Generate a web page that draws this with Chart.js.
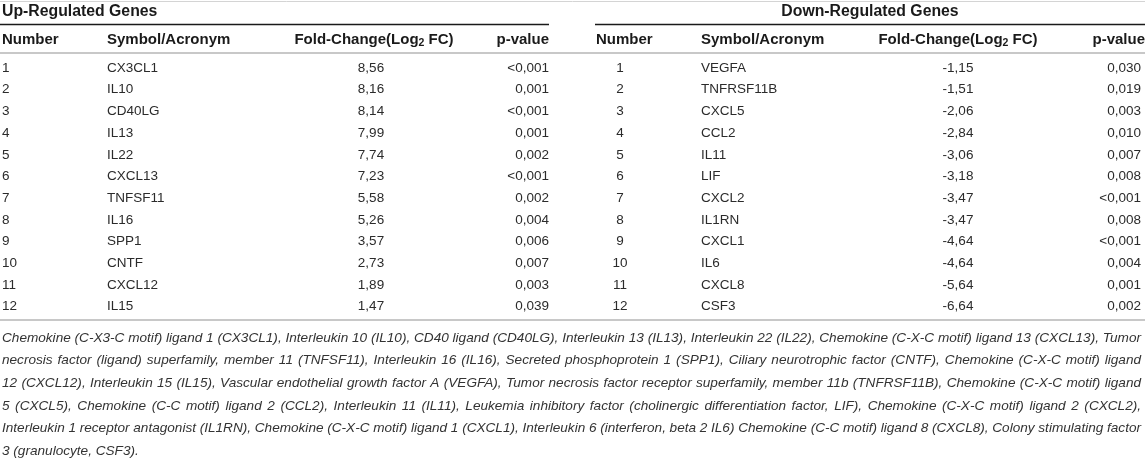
<!DOCTYPE html>
<html>
<head>
<meta charset="utf-8">
<script src="https://cdn.jsdelivr.net/npm/chart.js@4"></script>
<style>
  html, body { margin: 0; padding: 0; background: #fff; }
  #wrap { width: 1145px; height: 471px; }
</style>
</head>
<body>
<div id="wrap"><canvas id="geneTable"></canvas></div>
<script>
// table data
const rowNumbers = [1, 2, 3, 4, 5, 6, 7, 8, 9, 10, 11, 12];
const upSymbols = ['CX3CL1', 'IL10', 'CD40LG', 'IL13', 'IL22', 'CXCL13', 'TNFSF11', 'IL16', 'SPP1', 'CNTF', 'CXCL12', 'IL15'];
const upFoldChange = [8.56, 8.16, 8.14, 7.99, 7.74, 7.23, 5.58, 5.26, 3.57, 2.73, 1.89, 1.47];
const upPValues = ['<0,001', '0,001', '<0,001', '0,001', '0,002', '<0,001', '0,002', '0,004', '0,006', '0,007', '0,003', '0,039'];
const downSymbols = ['VEGFA', 'TNFRSF11B', 'CXCL5', 'CCL2', 'IL11', 'LIF', 'CXCL2', 'IL1RN', 'CXCL1', 'IL6', 'CXCL8', 'CSF3'];
const downFoldChange = [-1.15, -1.51, -2.06, -2.84, -3.06, -3.18, -3.47, -3.47, -4.64, -4.64, -5.64, -6.64];
const downPValues = ['0,030', '0,019', '0,003', '0,010', '0,007', '0,008', '<0,001', '0,008', '<0,001', '0,004', '0,001', '0,002'];
const groupTitles = ['Up-Regulated Genes', 'Down-Regulated Genes'];
const columnHeaders = ['Number', 'Symbol/Acronym', 'Fold-Change(Log|2| FC)', 'p-value'];
const footnoteLines = [
  'Chemokine (C-X3-C motif) ligand 1 (CX3CL1), Interleukin 10 (IL10), CD40 ligand (CD40LG), Interleukin 13 (IL13), Interleukin 22 (IL22), Chemokine (C-X-C motif) ligand 13 (CXCL13), Tumor',
  'necrosis factor (ligand) superfamily, member 11 (TNFSF11), Interleukin 16 (IL16), Secreted phosphoprotein 1 (SPP1), Ciliary neurotrophic factor (CNTF), Chemokine (C-X-C motif) ligand',
  '12 (CXCL12), Interleukin 15 (IL15), Vascular endothelial growth factor A (VEGFA), Tumor necrosis factor receptor superfamily, member 11b (TNFRSF11B), Chemokine (C-X-C motif) ligand',
  '5 (CXCL5), Chemokine (C-C motif) ligand 2 (CCL2), Interleukin 11 (IL11), Leukemia inhibitory factor (cholinergic differentiation factor, LIF), Chemokine (C-X-C motif) ligand 2 (CXCL2),',
  'Interleukin 1 receptor antagonist (IL1RN), Chemokine (C-X-C motif) ligand 1 (CXCL1), Interleukin 6 (interferon, beta 2 IL6) Chemokine (C-C motif) ligand 8 (CXCL8), Colony stimulating factor',
  '3 (granulocyte, CSF3).'
];

const fmt = v => v.toFixed(2).replace('.', ',');

// layout (x in page px, y in row units: data row n sits at n)
const FONT = '"Liberation Sans", Arial, sans-serif';
const rowStep = 21.7;
const yMin = 1 - 68 / rowStep;
const yMax = yMin + 471 / rowStep;
const rowAt = px => yMin + px / rowStep;
const cols = {
  upNum: { x: 2, align: 'left' },
  upSym: { x: 107, align: 'left' },
  upFc: { x: 371, align: 'center' },
  upP: { x: 549, align: 'right' },
  dnNum: { x: 620, align: 'center' },
  dnSym: { x: 701, align: 'left' },
  dnFc: { x: 958, align: 'center' },
  dnP: { x: 1141, align: 'right' }
};
const headerCols = [
  [{ x: 2, align: 'left' }, { x: 107, align: 'left' }, { x: 374, align: 'center' }, { x: 549, align: 'right' }],
  [{ x: 596, align: 'left' }, { x: 701, align: 'left' }, { x: 958, align: 'center' }, { x: 1145, align: 'right' }]
];

function column(key, texts) {
  return {
    data: texts.map((_, i) => ({ x: cols[key].x, y: rowNumbers[i] })),
    texts: texts,
    align: cols[key].align,
    pointRadius: 0,
    pointHoverRadius: 0
  };
}

const tablePlugin = {
  id: 'tablePlugin',
  afterDatasetsDraw(chart) {
    const ctx = chart.ctx;
    const xs = chart.scales.x;
    const ys = chart.scales.y;
    const X = v => xs.getPixelForValue(v);
    const Y = v => ys.getPixelForValue(v);
    ctx.save();

    // rules
    const rule = (x0, x1, yPx, color, w) => {
      ctx.strokeStyle = color;
      ctx.lineWidth = w;
      ctx.beginPath();
      ctx.moveTo(X(x0), Y(rowAt(yPx)));
      ctx.lineTo(X(x1), Y(rowAt(yPx)));
      ctx.stroke();
    };
    rule(0, 1145, 1.5, '#d4d4d4', 1);
    rule(0, 549, 24.5, '#1a1a1a', 1.3);
    rule(595, 1145, 24.5, '#1a1a1a', 1.3);
    rule(0, 1145, 53, '#c8c8c8', 2);
    rule(0, 1145, 320, '#c8c8c8', 2);

    // group titles
    ctx.fillStyle = '#1a1a1a';
    ctx.textBaseline = 'middle';
    ctx.font = 'bold 15.8px ' + FONT;
    ctx.textAlign = 'left';
    ctx.fillText(groupTitles[0], X(2), Y(rowAt(12)));
    ctx.textAlign = 'center';
    ctx.fillText(groupTitles[1], X(870), Y(rowAt(12)));

    // column headers (|2| marks a subscript)
    headerCols.forEach(group => {
      group.forEach((c, i) => {
        const parts = columnHeaders[i].split('|');
        const fonts = parts.map((_, k) => (k % 2 ? 'bold 10.5px ' : 'bold 15px ') + FONT);
        const widths = parts.map((p, k) => { ctx.font = fonts[k]; return ctx.measureText(p).width; });
        const total = widths.reduce((a, b) => a + b, 0);
        let x = X(c.x);
        if (c.align === 'center') x -= total / 2;
        if (c.align === 'right') x -= total;
        ctx.textAlign = 'left';
        parts.forEach((p, k) => {
          ctx.font = fonts[k];
          ctx.fillText(p, x, Y(rowAt(40)) + (k % 2 ? 3 : 0));
          x += widths[k];
        });
      });
    });

    // body cells
    ctx.font = '13.5px ' + FONT;
    ctx.fillStyle = '#2b2b2b';
    chart.data.datasets.forEach((ds, i) => {
      ctx.textAlign = ds.align;
      chart.getDatasetMeta(i).data.forEach((pt, j) => {
        ctx.fillText(ds.texts[j], pt.x, pt.y);
      });
    });

    // footnote, justified
    ctx.font = 'italic 13.6px ' + FONT;
    ctx.fillStyle = '#333';
    ctx.textAlign = 'left';
    const left = X(2), right = X(1141);
    footnoteLines.forEach((line, i) => {
      const y = Y(rowAt(338 + i * 22.6));
      if (i === footnoteLines.length - 1) { ctx.fillText(line, left, y); return; }
      const words = line.split(' ');
      const ws = words.map(w => ctx.measureText(w).width);
      const gap = (right - left - ws.reduce((a, b) => a + b, 0)) / (words.length - 1);
      let x = left;
      words.forEach((w, k) => { ctx.fillText(w, x, y); x += ws[k] + gap; });
    });
    ctx.restore();
  }
};

new Chart(document.getElementById('geneTable'), {
  type: 'scatter',
  data: {
    datasets: [
      column('upNum', rowNumbers.map(String)),
      column('upSym', upSymbols),
      column('upFc', upFoldChange.map(fmt)),
      column('upP', upPValues),
      column('dnNum', rowNumbers.map(String)),
      column('dnSym', downSymbols),
      column('dnFc', downFoldChange.map(fmt)),
      column('dnP', downPValues)
    ]
  },
  options: {
    responsive: true,
    maintainAspectRatio: false,
    animation: false,
    layout: { padding: 0 },
    scales: {
      x: { type: 'linear', min: 0, max: 1145, display: false },
      y: { type: 'linear', min: yMin, max: yMax, reverse: true, display: false }
    },
    plugins: {
      legend: { display: false },
      tooltip: { enabled: false }
    }
  },
  plugins: [tablePlugin]
});
</script>
</body>
</html>
